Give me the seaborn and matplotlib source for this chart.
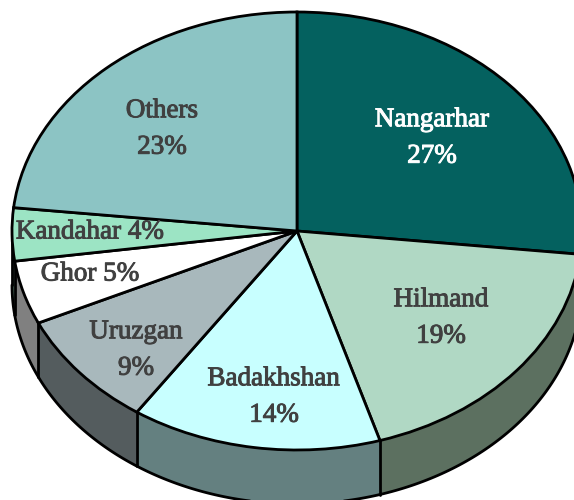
import numpy as np
import matplotlib
matplotlib.use("Agg")
import matplotlib.pyplot as plt
import matplotlib.patheffects as pe
import seaborn as sns

regions = ["Nangarhar", "Hilmand", "Badakhshan", "Uruzgan", "Ghor", "Kandahar", "Others"]
shares = [26.7, 18.6, 14.2, 8.6, 4.7, 3.9, 23.3]
share_labels = ["27%", "19%", "14%", "9%", "5%", "4%", "23%"]

top_colors = ["#04615f", "#b0d8c4", "#c8ffff", "#a8b8bc", "#ffffff", "#9ce4c4", "#8cc4c4"]
side_colors = ["#04403f", "#5c7060", "#648080", "#545c5e", "#808080", "#4e7262", "#466262"]
text_colors = ["#ffffff"] + ["#404040"] * 6

W, H = 574, 500
CX, CY, RX, RY, DEPTH = 297, 231, 285, 219, 54
LW = 2.0

sns.set_theme(style="white")
plt.rcParams["font.family"] = ["Liberation Serif", "DejaVu Serif"]
palette = sns.color_palette(top_colors)
side_palette = sns.color_palette(side_colors)

fig = plt.figure(figsize=(W / 100, H / 100), dpi=100)
ax = fig.add_axes([0, 0, 1, 1])

# Side wall: clockwise angles from 12 o'clock, visible between 90 and 270 degrees
fractions = np.array(shares) / np.sum(shares)
edges = np.concatenate([[0], np.cumsum(fractions)]) * 360
d = DEPTH / RY
for a, b, c in zip(edges[:-1], edges[1:], side_palette):
    lo, hi = max(a, 90), min(b, 270)
    if hi <= lo:
        continue
    t = np.radians(np.linspace(lo, hi, 80))
    x, y = np.sin(t), np.cos(t)
    ax.fill(np.r_[x, x[::-1]], np.r_[y, y[::-1] - d], color=c, lw=0, zorder=1)
    ax.plot(x, y - d, color="black", lw=LW, zorder=2, solid_capstyle="round")
    if lo == a and a > 90:
        ax.plot([x[0], x[0]], [y[0], y[0] - d], color="black", lw=LW, zorder=2)
# silhouette edge on the left and the right
for s in (-1, 1):
    ax.plot([s, s], [0, -d], color="black", lw=LW, zorder=2)

wedges, _ = ax.pie(shares, colors=palette, startangle=90, counterclock=False, radius=1,
                   wedgeprops=dict(edgecolor="black", linewidth=LW))
for w in wedges:
    w.set_zorder(3)

ax.set_aspect("auto")
ax.set_xlim(-CX / RX, (W - CX) / RX)
ax.set_ylim(-(H - CY) / RY, CY / RY)
ax.axis("off")

# Label anchors in image pixels
anchors = [(432, 138), (441, 318), (274, 397), (136, 350), (90, 274), (90, 232), (162, 129)]
for name, pct, (px, py), col in zip(regions, share_labels, anchors, text_colors):
    one_line = name in ("Ghor", "Kandahar")
    txt = f"{name} {pct}" if one_line else f"{name}\n{pct}"
    t = ax.text((px - CX) / RX, (CY - py) / RY, txt, ha="center", va="center", color=col,
                fontsize=19.5, linespacing=1.6, zorder=5)
    t.set_path_effects([pe.withStroke(linewidth=0.7, foreground=col)])

fig.savefig("out.png", dpi=100, facecolor="white")
